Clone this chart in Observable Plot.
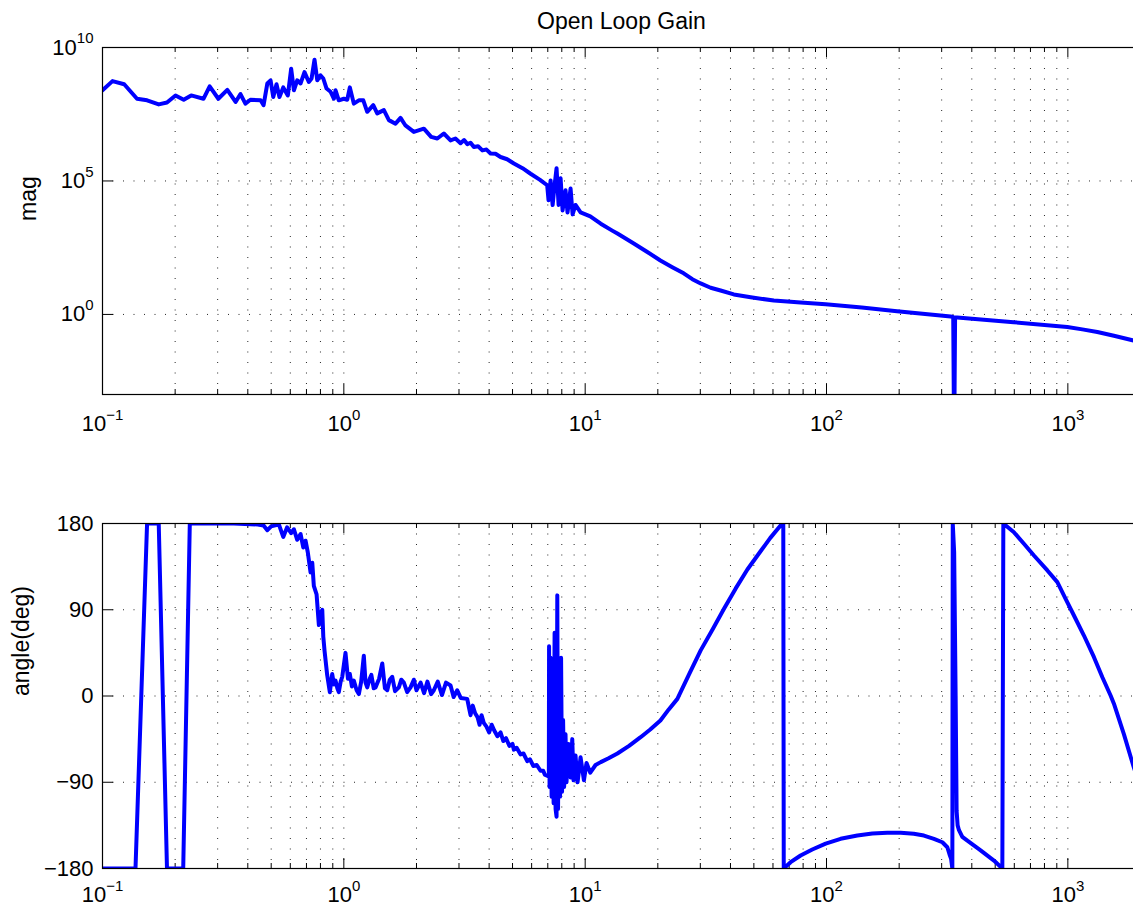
<!DOCTYPE html>
<html><head><meta charset="utf-8">
<script src="https://cdn.jsdelivr.net/npm/d3@7"></script>
<script src="https://cdn.jsdelivr.net/npm/@observablehq/plot@0.6"></script>
<style>
html,body{margin:0;padding:0;background:#fff;overflow:hidden}
svg{display:block;max-width:none !important}
</style></head><body><div id="chart"></div>
<script>
// ---- data ----
const magFreq = [0.1,0.11,0.123,0.139,0.153,0.171,0.185,0.2007,0.217,0.233,0.262,0.278,0.302,0.329,0.356,0.373,0.391,0.41,0.452,0.465,0.482,0.497,0.51,0.526,0.541,0.561,0.586,0.605,0.621,0.641,0.662,0.687,0.716,0.735,0.756,0.776,0.80,0.822,0.848,0.881,0.909,0.924,0.953,1.0,1.033,1.059,1.10,1.154,1.204,1.25,1.324,1.375,1.465,1.537,1.637,1.718,1.80,1.95,2.146,2.30,2.44,2.596,2.768,2.90,3.045,3.15,3.25,3.35,3.458,3.6,3.75,3.9,4.055,4.25,4.46,4.75,5.065,5.5,5.94,6.5,6.96,7.05,7.19,7.33,7.47,7.61,7.76,7.91,8.06,8.29,8.45,8.70,8.87,9.12,9.57,10.5,11.6,13.0,13.6,15.9,18.09,20.5,22.96,25.6,27.8,30.1,33.1,36.4,41.3,48.5,60.5,78.1,99.2,140,196,327,335,338,341,348,596,995,1148,1325,1552,1874,2000];
const magValue = [2.5e8,5.5e8,4.2e8,1.2e8,1.05e8,7.4e7,8.7e7,1.6e8,1.1e8,1.6e8,1.2e8,3.5e8,1.2e8,2.6e8,9.1e7,1.8e8,7.9e7,1.1e8,1.05e8,6.9e7,4.5e8,5.9e8,1.4e8,4.2e8,1.4e8,3.2e8,1.6e8,1.6e9,2.5e8,5.9e8,4.5e8,1.2e9,5.1e8,6.9e8,3.5e9,5.9e8,9.1e8,6.9e8,2.9e8,2.2e8,1.2e8,2.5e8,1.05e8,1.2e8,1.1e8,3.2e8,7.9e7,1.05e8,1.05e8,3.9e7,6.9e7,3.4e7,4.5e7,1.9e7,1.4e7,2.3e7,1.2e7,6.9e6,9.1e6,4.5e6,3.9e6,6.0e6,3.3e6,3.9e6,2.6e6,3.4e6,2.4e6,2.7e6,1.86e6,2.0e6,1.4e6,1.5e6,1.07e6,1.05e6,7.9e5,6.5e5,4.5e5,3.0e5,1.86e5,1.1e5,6.9e4,1.9e4,1.05e5,1.26e4,6.9e4,3.0e5,1.26e4,1.26e5,7.9e3,4.5e4,6.6e3,5.2e4,5.6e3,1.26e4,6.6e3,4.7e3,2.5e3,1.35e3,1.07e3,457,219,105,58.9,34.7,20.9,14.5,10,7.9,5.6,4.4,3.3,2.82,2.4,1.8,1.32,0.83,0.8,1e-5,0.77,0.76,0.51,0.34,0.275,0.22,0.158,0.105,0.091];

const phaseFreq = [0.1,0.137,0.153,0.171,0.185,0.216,0.230,0.35,0.44,0.465,0.482,0.50,0.52,0.538,0.561,0.582,0.605,0.621,0.641,0.662,0.679,0.694,0.709,0.728,0.740,0.751,0.771,0.788,0.80,0.814,0.822,0.832,0.853,0.875,0.895,0.91,0.924,0.94,0.953,0.97,0.985,1.016,1.04,1.059,1.08,1.1,1.13,1.154,1.18,1.21,1.23,1.25,1.28,1.30,1.33,1.353,1.40,1.443,1.48,1.513,1.55,1.587,1.63,1.69,1.73,1.773,1.83,1.89,1.95,2.0,2.08,2.15,2.22,2.30,2.36,2.45,2.55,2.65,2.768,2.85,2.95,3.05,3.245,3.3,3.35,3.42,3.5,3.58,3.65,3.72,3.80,3.9,4.0,4.1,4.2,4.33,4.46,4.58,4.7,4.85,5.0,5.065,5.2,5.4,5.55,5.755,5.9,6.1,6.3,6.53,6.7,6.8,7.07,7.086,7.12,7.19,7.26,7.33,7.40,7.47,7.54,7.61,7.664,7.72,7.795,7.87,7.946,8.02,8.10,8.18,8.29,8.37,8.53,8.70,8.84,8.95,9.12,9.30,9.57,9.88,10.13,10.5,11.04,11.6,12.5,13.6,15.2,16.97,18.6,20.5,22.2,24.1,27,30.1,33.8,37.6,42,47.0,53.3,58.5,64.5,66.2,66.5,71.0,78.1,87.3,99.2,114.4,134.2,154.8,178.6,202.8,230,253.3,278.7,302,316.7,324.6,328.3,332.2,333.5,338,342.8,346,349.4,353.9,365.4,383.4,435,494,535.3,540.3,597.8,657.7,723.6,822.5,904.6,979,1060,1166,1283,1390,1505,1552,1708,1874,2000];
const phaseDeg = [-180,-180,180,180,-180,-180,180,180,179,178,173,177,178,179,166,176,170,174,163,169,155,162,150,129,139,115,106,74,86,90,62,47,22,4,23,12,16,8,4,15,20,45,18,23,10,16,6,2,15,42,14,9,18,22,8,9,18,34,8,6,17,20,5,9,17,14,4,9,17,6,14,3,15,2,6,15,1,14,11,-1,6,-2,-3,-12,-20,-10,-18,-22,-30,-20,-28,-32,-38,-30,-36,-42,-38,-47,-44,-52,-50,-56,-54,-61,-60,-68,-66,-73,-72,-78,-78,-82,-84,52,-95,40,-105,20,-112,66,-118,-126,105,-118,30,-105,40,-100,-25,-95,-40,-90,-50,-85,-45,-88,-62,-90,-64,-88,-70,-80,-72,-69,-65,-60,-52,-43,-35,-25.6,-14,-3,23,47.6,70,91,112,132,151,165,178,180,-180,-173.4,-166.4,-160.2,-154,-149,-145.6,-143.5,-142.8,-142.8,-143.8,-145.6,-149,-152.6,-157.8,-166.5,-170,-180,180,150,0,-120,-135,-140,-147,-151,-161,-171.7,-180,180,170.9,158.8,146.6,131,118.8,101.4,84,63.1,40.5,19.6,0.3,-8,-40,-74,-96];

const xDomain = [0.1, 2000];
const xMajorTicks = [0.1, 1, 10, 100, 1000];
const xTickLabels = ["10^\u22121", "10^0", "10^1", "10^2", "10^3"];
const xMinorTicks = [0.2,0.3,0.4,0.5,0.6,0.7,0.8,0.9,2,3,4,5,6,7,8,9,20,30,40,50,60,70,80,90,200,300,400,500,600,700,800,900,2000];
const magDomain = [1e-3, 1e10];
const magTicks = [1, 1e5, 1e10];
const magTickLabels = ["10^0", "10^5", "10^10"];
const phaseDomain = [-180, 180];
const phaseTicks = [-180, -90, 0, 90, 180];
const phaseTickLabels = ["\u2212180", "\u221290", "0", "90", "180"];

const titleText = "Open Loop Gain";
const magLabel = "mag";
const phaseLabel = "angle(deg)";

// ---- layout ----
const W = 1141, ML = 102, MR = 1;
const PW = W - ML - MR;
const FONT = "'Liberation Sans', Arial, Helvetica, sans-serif";
const BLUE = "#0000ff";
const dotted = {stroke: "#000", strokeWidth: 1, strokeDasharray: "1,9.5", strokeOpacity: 0.85};

function superscripts(svg) {
  d3.select(svg).selectAll("text").each(function () {
    const t = this.textContent;
    const m = /^10\^(.+)$/.exec(t);
    if (!m) return;
    const s = d3.select(this);
    s.text(null);
    s.append("tspan").text("10");
    s.append("tspan").attr("font-size", "15px").attr("dy", "-0.75em").text(m[1]);
  });
}

function panel({height, mt, mb, y, data, yKey, gridY, yTicks, yLabel, title, xPad}) {
  const PH = height - mt - mb;
  const allX = xMajorTicks.concat(xMinorTicks);
  const marks = [
    Plot.ruleX(allX, dotted),
    Plot.ruleY(gridY, dotted),
    Plot.ruleX(xMajorTicks, {stroke: "#000", insetTop: PH - 10}),
    Plot.ruleX(xMajorTicks, {stroke: "#000", insetBottom: PH - 10}),
    Plot.ruleX(xMinorTicks, {stroke: "#000", insetTop: PH - 5}),
    Plot.ruleX(xMinorTicks, {stroke: "#000", insetBottom: PH - 5}),
    Plot.ruleY(yTicks, {stroke: "#000", insetRight: PW - 11}),
    Plot.line(data, {x: "f", y: yKey, stroke: BLUE, strokeWidth: 4, strokeLinejoin: "round", strokeLinecap: "round", clip: true}),
    Plot.frame({stroke: "#000", strokeWidth: 1.2}),
    Plot.text([yLabel], {text: d => d, frameAnchor: "left", lineAnchor: "middle", rotate: -90, dx: yLabel === "mag" ? -74 : -81, fontSize: 23, fill: "#000"})
  ];
  if (title) marks.push(Plot.text([title], {text: d => d, frameAnchor: "top", lineAnchor: "middle", dy: -26, fontSize: 23, fill: "#000"}));
  const svg = Plot.plot({
    width: W, height,
    marginLeft: ML, marginRight: MR, marginTop: mt, marginBottom: mb,
    style: {fontFamily: FONT, fontSize: "22px", color: "#000", background: "#fff", overflow: "visible", maxWidth: "none"},
    x: {type: "log", domain: xDomain, ticks: xMajorTicks, tickFormat: d => xTickLabels[xMajorTicks.indexOf(d)] ?? "", tickSize: 0, tickPadding: xPad, label: null},
    y: y,
    marks
  });
  superscripts(svg);
  return svg;
}

const magData = magFreq.map((f, i) => ({f, m: magValue[i]}));
const phaseData = phaseFreq.map((f, i) => ({f, p: phaseDeg[i]}));

const magPlot = panel({
  height: 450, mt: 47, mb: 56, xPad: 21,
  y: {type: "log", domain: magDomain, ticks: magTicks, tickFormat: d => magTickLabels[magTicks.indexOf(d)] ?? "", tickSize: 0, tickPadding: 9, label: null},
  data: magData, yKey: "m", gridY: [1, 1e5], yTicks: magTicks, yLabel: magLabel, title: titleText
});
const phasePlot = panel({
  height: 457, mt: 73, mb: 39, xPad: 18,
  y: {type: "linear", domain: phaseDomain, ticks: phaseTicks, tickFormat: d => phaseTickLabels[phaseTicks.indexOf(d)] ?? "", tickSize: 0, tickPadding: 9, label: null},
  data: phaseData, yKey: "p", gridY: [-90, 0, 90], yTicks: phaseTicks, yLabel: phaseLabel
});
const root = document.getElementById("chart");
root.appendChild(magPlot);
root.appendChild(phasePlot);
</script>
</body></html>
